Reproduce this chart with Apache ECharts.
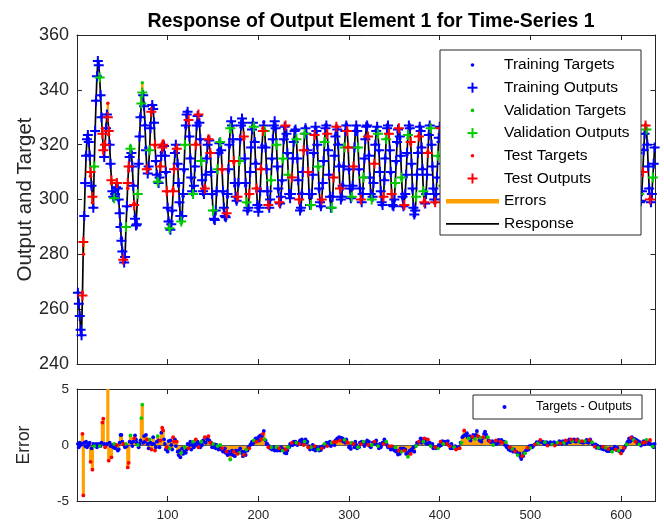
<!DOCTYPE html>
<html>
<head>
<meta charset="utf-8">
<script src="https://cdn.jsdelivr.net/npm/echarts@6/dist/echarts.min.js"></script>
<style>
  html, body { margin: 0; padding: 0; background: #fff; }
  #chart { width: 664px; height: 522px; }
</style>
</head>
<body>
<div id="chart"></div>
<script>
// Network response over time steps 1..N (one value per step, 12 per row)
const outputs = [
  266, 262, 257.5, 252.5, 250.5, 265, 284.5, 294, 306, 316, 322, 323.5,
  321, 316, 310, 305, 301, 297, 312, 325, 336, 345, 350.5, 349,
  344.5, 338, 330, 324, 318, 315.5, 320, 326, 331, 330, 325, 320,
  313, 307, 303, 301, 300.5, 302, 304.5, 306, 304, 300, 295, 290,
  285, 281, 278, 277, 279, 290, 297.5, 306, 312, 315.5, 318.5, 317,
  312, 305, 298, 293, 290.5, 291, 302, 313, 323, 330, 335, 339,
  338, 334, 327, 318, 311, 309.5, 312, 318, 326, 332, 334.5, 333,
  328, 320, 314, 309, 306.5, 306, 308, 312, 316, 319, 320, 319.5,
  316, 310, 303, 297, 292, 289.5, 289, 291, 296, 303, 311, 317,
  320, 318.5, 313, 306, 299, 294, 292, 294, 302, 311, 320, 327,
  331, 332, 329, 323, 315, 308, 303, 302, 305, 312, 320, 327,
  330.5, 331, 328, 322, 314, 307, 303, 302, 304, 309, 315, 320,
  322, 321.5, 317, 310, 302, 296, 293, 292.5, 296, 303, 311, 317,
  320.5, 321, 318, 311, 303, 297, 294, 293.5, 295, 302, 311, 320,
  326, 328.5, 327, 322, 314, 306, 301, 299.5, 301, 306, 314, 322,
  327, 329.5, 328, 323, 315, 306, 299, 296, 297, 302, 310, 319,
  325.5, 328, 326.5, 321, 313, 304, 298, 295.5, 297, 303, 311, 319,
  325, 327, 325, 319, 311, 303, 298, 297, 300, 307, 315, 322,
  327, 328.5, 326, 320, 312, 304, 299, 298.5, 301, 307, 315, 322,
  326.5, 327, 324, 317, 309, 302, 300.5, 302, 308, 315, 321, 325,
  325.5, 322, 315, 307, 300, 296, 297, 302, 310, 318, 324, 326,
  324, 318, 310, 302, 298, 298, 302, 309, 317, 323.5, 326.5, 325,
  320, 312, 304, 299, 297.5, 300, 306, 314, 321, 326, 327, 324,
  318, 309, 301, 297, 297, 301, 308, 316, 323, 326.5, 325.5, 320,
  312, 304, 300, 301, 305, 312, 319, 325, 327, 325, 319, 311,
  304, 300.5, 301, 305, 312, 319, 325, 327, 325, 319, 311, 304,
  300, 299, 302, 308, 315, 322, 326.5, 327, 323, 316, 308, 302,
  300, 301, 306, 313, 320, 325, 326.5, 324, 318, 310, 303, 299,
  298, 301, 307, 315, 322, 326, 327, 324, 318, 310, 302, 298,
  297.5, 300, 306, 314, 321, 325.5, 326, 323, 316, 308, 301, 297.5,
  298, 302, 309, 317, 323.5, 327, 326, 321, 313, 304, 297, 294.5,
  296, 301, 309, 317, 323, 326.5, 325, 319, 311, 303, 299, 298.5,
  302, 309, 317, 323.5, 327, 326, 320, 312, 304, 300, 299, 302,
  308, 316, 322.5, 326.5, 326, 321, 313, 305, 300, 298.5, 301, 307,
  315, 322, 326.5, 327, 323, 316, 308, 302, 299, 300, 305, 312,
  319, 325, 327, 325, 319, 311, 304, 300, 299.5, 303, 310, 318,
  324, 327, 326, 321, 313, 305, 300, 298.5, 301, 307, 315, 322,
  326.5, 327, 323, 316, 308, 302, 299, 300, 305, 312, 320, 325.5,
  327, 325, 319, 311, 304, 300, 299.5, 303, 310, 317, 323.5, 326.5,
  325.5, 321, 313, 305, 300, 298, 300, 306, 314, 321, 326, 327,
  324, 317, 309, 302, 298.5, 299, 303, 310, 318, 324, 327, 325.5,
  320, 312, 304, 299.5, 298.5, 302, 308, 316, 322.5, 326.5, 326, 321,
  313, 305, 300, 299, 301, 307, 315, 322, 326.5, 327, 323, 316,
  308, 302, 299, 300, 305, 312, 320, 325.5, 327, 325, 319, 311,
  304, 300, 299.5, 303, 310, 317, 323.5, 326.5, 325.5, 321, 313, 305,
  300, 298.5, 300, 306, 314, 321, 326, 327, 324, 317, 309, 302,
  299, 299.5, 303, 310, 318, 324, 327, 325.5, 320, 312, 304, 300,
  299, 302, 308, 316, 322.5, 326.5, 326, 321, 313, 305, 300, 299,
  301, 307, 315, 322, 326.5, 327, 323, 316, 308, 302, 299, 300,
  305, 312, 320, 325.5, 327, 325, 319, 311, 304, 300, 299.5, 303,
  310, 317, 323.5, 326.5, 325.5, 321, 313, 305, 300, 298.5, 300, 306,
  314, 321, 326, 327, 324, 317, 309, 302, 299, 299.5, 303, 310,
  318, 324, 327, 325.5, 320, 312, 304, 300, 299, 302, 308, 313, 319
];

// Targets minus outputs, same time steps
const errors = [
  0.1, -0.2, 0.2, 0.0, 0.1, 1.0, -4.5, 0.2, -0.1, 0.3, -0.2, 0.1,
  0.0, 0.2, -1.5, -0.3, -2.2, 0.1, -0.1, 0.0, 0.1, -0.2, 0.0, 0.1,
  -0.1, -0.1, 0.2, 2.0, 2.35, 0.1, -0.2, 0.0, 0.1, 5.1, -1.4, 0.2,
  -0.1, -1.1, 0.0, -0.2, 0.1, -0.3, -0.1, 0.0, -0.5, -0.4, 0.2, 0.9,
  0.9, 0.3, 0.1, 0.0, -0.2, 0.1, -0.1, -2.0, -1.6, 0.3, 0.85, 0.2,
  -0.1, 0.3, 0.6, 0.85, 0.5, 0.2, 0.0, -0.2, 0.1, 0.4, 2.4, 3.6,
  0.2, 0.8, 0.3, 0.9, 0.5, 0.1, -0.3, 0.5, 0.2, -0.4, 0.1, 0.7,
  0.1, -0.5, -0.2, 0.3, 0.8, 0.4, -0.2, 0.4, 1.1, 1.55, 1.3, 0.5,
  0.1, -0.4, -0.2, -0.6, 0.35, -0.3, 0.4, 0.0, -0.4, 0.7, 0.3, 0.5,
  -0.1, 0.3, -0.6, -0.9, -0.5, -1.1, -0.7, -0.3, -0.8, -0.6, -0.2, -0.7,
  -0.4, 0.1, -0.3, 0.0, 0.3, -0.4, 0.0, 0.3, -0.2, 0.1, 0.5, 0.0,
  0.3, -0.2, 0.1, -0.2, 0.3, 0.0, 0.4, 0.3, 0.7, 0.2, 0.6, 0.5,
  0.8, 0.4, 0.2, 0.2, -0.2, 0.1, -0.2, 0.05, -0.3, 0.0, -0.1, -0.4,
  -0.2, 0.0, -0.4, -0.3, -0.6, -0.5, -0.3, -0.7, -0.6, -0.9, -0.6, -0.8,
  -1.3, -0.8, -0.5, -0.9, -0.6, -1.0, -0.5, -0.6, -0.8, -0.5, -0.7, -0.3,
  -0.7, -0.6, -1.0, -0.9, -0.6, -0.9, -0.4, -0.5, -0.2, -0.3, 0.0, 0.1,
  0.3, 0.1, 0.4, 0.3, 0.6, 0.3, 0.4, 0.7, 0.4, 0.85, 0.5, 0.8,
  1.0, 1.25, 0.5, 0.4, 0.1, 0.1, -0.2, -0.1, -0.3, -0.2, -0.4, -0.3,
  -0.2, -0.5, -0.3, -0.2, -0.5, -0.4, -0.3, -0.5, -0.2, -0.3, -0.5, -0.4,
  -0.7, -0.4, -0.75, -0.5, -0.2, -0.2, 0.1, 0.0, 0.2, 0.0, 0.3, 0.1,
  0.3, 0.2, 0.0, 0.2, 0.1, 0.4, 0.1, 0.5, 0.2, 0.0, 0.3, 0.5,
  0.2, 0.3, -0.2, -0.1, -0.4, -0.2, -0.3, 0.0, -0.4, -0.1, -0.5, -0.2,
  -0.3, -0.4, -0.5, -0.2, -0.45, -0.3, -0.1, -0.2, 0.1, 0.0, 0.2, -0.1,
  0.2, 0.0, 0.3, -0.1, 0.2, 0.1, 0.25, 0.0, 0.4, 0.3, 0.6, 0.5,
  0.7, 0.4, 0.65, 0.4, 0.6, 0.3, 0.45, 0.2, 0.5, 0.25, 0.2, -0.2,
  -0.1, -0.35, 0.2, 0.1, 0.1, -0.2, 0.3, 0.0, -0.3, -0.2, -0.2, 0.2,
  0.1, 0.3, 0.2, 0.3, -0.1, 0.2, 0.1, 0.4, 0.0, 0.3, -0.1, -0.2,
  0.0, 0.2, 0.1, 0.3, 0.2, 0.4, 0.0, -0.1, -0.3, 0.1, -0.2, 0.0,
  0.2, 0.1, 0.5, 0.2, 0.3, 0.0, -0.2, -0.1, -0.2, -0.4, -0.1, -0.35,
  -0.2, -0.5, -0.2, -0.6, -0.5, -0.85, -0.5, -0.8, -0.3, -0.6, -0.5, -0.3,
  -0.5, -0.4, -0.8, -0.7, -1.05, -0.7, -0.5, -0.8, -0.4, -0.5, -0.2, -0.6,
  -0.1, -0.1, 0.2, 0.2, 0.3, 0.3, 0.6, 0.2, 0.5, 0.3, 0.6, 0.2,
  0.5, 0.1, 0.5, 0.2, 0.2, -0.1, 0.0, 0.1, -0.3, -0.2, -0.2, -0.3,
  -0.2, -0.3, 0.0, -0.1, 0.3, 0.0, 0.35, 0.1, 0.2, 0.3, 0.1, 0.1,
  0.35, 0.0, -0.1, -0.3, 0.1, -0.3, -0.2, -0.2, -0.1, -0.4, -0.3, -0.25,
  -0.2, -0.3, 0.2, 0.2, 0.7, 0.8, 1.3, 0.9, 0.9, 1.05, 0.7, 0.6,
  0.8, 0.4, 0.7, 0.75, 0.9, 0.7, 0.55, 0.9, 1.25, 0.8, 0.75, 0.4,
  0.65, 0.3, 0.6, 0.7, 1.0, 1.2, 0.95, 0.7, 0.7, 0.4, 0.35, 0.3,
  0.25, 0.35, 0.0, 0.1, 0.15, 0.4, 0.1, 0.35, 0.45, 0.2, 0.3, 0.45,
  0.2, 0.3, 0.3, 0.0, 0.25, -0.2, -0.1, -0.4, -0.2, -0.5, -0.3, -0.35,
  -0.6, -0.4, -0.55, -0.6, -0.65, -0.9, -0.8, -0.75, -1.05, -1.25, -1.0, -1.0,
  -0.7, -0.75, -0.5, -0.45, -0.25, -0.4, -0.1, -0.25, -0.05, -0.2, -0.1, 0.0,
  0.05, 0.1, 0.25, 0.15, 0.2, 0.3, 0.45, 0.3, 0.25, 0.3, 0.1, 0.25,
  0.05, 0.25, -0.05, 0.15, 0.1, 0.25, 0.05, 0.05, 0.15, 0.25, -0.05, 0.15,
  0.15, 0.2, 0.1, 0.35, 0.15, 0.2, 0.1, 0.35, 0.2, 0.25, 0.4, 0.15,
  0.35, 0.3, 0.5, 0.25, 0.5, 0.35, 0.35, 0.5, 0.45, 0.3, 0.45, 0.5,
  0.35, 0.35, 0.3, 0.25, 0.35, 0.2, 0.25, 0.35, 0.3, 0.45, 0.25, 0.2,
  0.45, 0.5, 0.25, 0.25, 0.05, 0.05, -0.15, 0.05, -0.25, -0.05, -0.25, -0.3,
  -0.15, -0.2, -0.35, -0.15, -0.4, -0.35, -0.25, -0.5, -0.55, -0.35, -0.55, -0.3,
  -0.5, -0.6, -0.35, -0.3, -0.15, -0.4, -0.45, -0.25, -0.5, -0.55, -0.6, -0.75,
  -0.55, -0.5, -0.25, -0.25, -0.05, 0.05, 0.25, 0.35, 0.6, 0.3, 0.65, 0.7,
  0.45, 0.45, 0.55, 0.3, 0.45, 0.15, 0.35, 0.05, 0.25, -0.05, 0.15, 0.2,
  0.35, 0.05, 0.25, 0.45, 0.25, 0.15, 0.15, 0.45, 0.05, 0.05, -0.15, -0.2, 0.1
];

// Data division per time step: t = training, v = validation, s = test
const divisionRows = [
  'tttttssttttt', 'ttststvttttt', 'vttsststtsst', 'tsttvttstttt',
  'ttsttvtsstvt', 'ttstttvtttvv', 'ttttsttvtstt', 'tsttvttstsst',
  'ttsttvtttsst', 'tsttttvtttvt', 'ttsttttvttst', 'tsttvtttsttt',
  'ststtvttttvt', 'tvtsttttsttt', 'vtttstttstvt', 'tttsttvttstt',
  'ttvttsttttst', 'stvtttsttvtt', 'tttvttstttvt', 'tsttvtttsttt',
  'tvttsttttsvt', 'ttsttvtttstt', 'tvtttsttvtts', 'ttttvtsttstt',
  'tsttttvttsst', 'ttvtsttttvtt', 'sttvttttsttt', 'vttstttvtttt',
  'tsttvttsttst', 'ttvtttsttvtt', 'stttvttstttt', 'tvttsttttvst',
  'ttsttvttttst', 'tvttsttvttts', 'ttsttttvtstt', 'tstvttsttttv',
  'tttsttvttstt', 'vttsttttvtst', 'ttvttsttttst', 'stttvtttsttv',
  'ttsttvttttst', 'tvttsttvtttt', 'sttvttsttttv', 'ttsttttvttst',
  'tvttstttvtst', 'ttttsvttttst', 'tvttsttvtttt', 'sttvttstttvt',
  'tttsttvttstt', 'tvtttsttvtts', 'ttsttvttttst', 'tvtstttvttts',
  'ttsvtttsttvtt'
];

const titleText = 'Response of Output Element 1 for Time-Series 1';
const xTickLabels = [100, 200, 300, 400, 500, 600];
const mainYTicks = [240, 260, 280, 300, 320, 340, 360];
const errYTicks = [-5, 0, 5];

const groupNames = {
  t: ['Training Targets', 'Training Outputs'],
  v: ['Validation Targets', 'Validation Outputs'],
  s: ['Test Targets', 'Test Outputs']
};

// ---- styling ----
const FONT = '"Liberation Sans", Arial, Helvetica, sans-serif';
const AXIS = '#262626';
const COL = { t: '#0000FF', v: '#00CC00', s: '#FF0000' };
const ORANGE = '#FFA000';
const PLUS = 'path://M4,0H6V4H10V6H6V10H4V6H0V4H4Z';
const X_MAX = 638;

// ---- build series data ----
const division = divisionRows.join('');
const groups = { t: { tgt: [], out: [], err: [] }, v: { tgt: [], out: [], err: [] }, s: { tgt: [], out: [], err: [] } };
const response = [], errSegments = [], errBars = [];
for (let i = 0; i < outputs.length; i++) {
  const x = i + 1;
  const o = outputs[i];
  const e = errors[i] !== undefined ? errors[i] : 0;
  const tg = o + e;
  const k = groups[division[i]] ? division[i] : 't';
  groups[k].tgt.push([x, tg]);
  groups[k].out.push([x, o]);
  groups[k].err.push([x, e]);
  response.push([x, o]);
  errSegments.push([x, tg, o]);
  errBars.push([x, e]);
}

function xAxisCfg(grid, position, labels) {
  return {
    type: 'value', gridIndex: grid, position: position,
    min: 0, max: X_MAX, interval: 100,
    axisLine: { show: true, onZero: false, lineStyle: { color: AXIS, width: 1 } },
    axisTick: { show: true, inside: true, length: 5, lineStyle: { color: AXIS, width: 1 } },
    axisLabel: {
      show: labels, color: AXIS, fontSize: 13, fontFamily: FONT, margin: 8,
      formatter: v => xTickLabels.indexOf(v) >= 0 ? String(v) : ''
    },
    splitLine: { show: false }
  };
}
function yAxisCfg(grid, position, min, max, step, ticks, labels, fs, name, nameSize, gap) {
  return {
    type: 'value', gridIndex: grid, position: position,
    min: min, max: max, interval: step,
    name: name || '', nameLocation: 'middle', nameGap: gap || 0, nameMoveOverlap: false,
    nameTextStyle: { color: AXIS, fontSize: nameSize || 12, fontFamily: FONT },
    axisLine: { show: true, onZero: false, lineStyle: { color: AXIS, width: 1 } },
    axisTick: { show: true, inside: true, length: 5, lineStyle: { color: AXIS, width: 1 } },
    axisLabel: {
      show: labels, color: AXIS, fontSize: fs, fontFamily: FONT, margin: 8,
      formatter: v => ticks.indexOf(v) >= 0 ? String(v) : ''
    },
    splitLine: { show: false }
  };
}

const series = [];
// orange error segments between target and output
series.push({
  type: 'custom', name: 'Errors', xAxisIndex: 0, yAxisIndex: 0, z: 1,
  data: errSegments,
  renderItem: (params, api) => {
    const a = api.coord([api.value(0), api.value(1)]);
    const b = api.coord([api.value(0), api.value(2)]);
    return { type: 'line', shape: { x1: a[0], y1: a[1], x2: b[0], y2: b[1] },
             style: { stroke: ORANGE, lineWidth: 2.5 } };
  }
});
series.push({
  type: 'line', name: 'Response', xAxisIndex: 0, yAxisIndex: 0, z: 2,
  data: response, showSymbol: false, symbol: 'none',
  lineStyle: { color: '#000', width: 1.7 }
});
['t', 'v', 's'].forEach((k, idx) => {
  series.push({
    type: 'scatter', name: groupNames[k][0], xAxisIndex: 0, yAxisIndex: 0, z: 3 + idx,
    data: groups[k].tgt, symbol: 'circle', symbolSize: 3.5,
    itemStyle: { color: COL[k], opacity: 1 }
  });
  series.push({
    type: 'scatter', name: groupNames[k][1], xAxisIndex: 0, yAxisIndex: 0, z: 3 + idx,
    data: groups[k].out, symbol: PLUS, symbolSize: 10, symbolKeepAspect: true,
    itemStyle: { color: COL[k], opacity: 1 }
  });
});
// error panel
series.push({
  type: 'bar', name: 'Error stems', xAxisIndex: 2, yAxisIndex: 2, z: 2,
  data: errBars, barWidth: 3.2, itemStyle: { color: ORANGE },
  markLine: {
    silent: true, symbol: 'none', label: { show: false }, z: 3,
    lineStyle: { color: '#5a5a5a', width: 1, type: 'solid' },
    data: [{ yAxis: 0 }]
  }
});
['t', 'v', 's'].forEach((k, idx) => {
  series.push({
    type: 'scatter', name: 'Targets - Outputs ' + k, xAxisIndex: 2, yAxisIndex: 2, z: 5 + idx,
    data: groups[k].err, symbol: 'circle', symbolSize: 3.8,
    itemStyle: { color: COL[k], opacity: 1 }
  });
});

// ---- legends drawn as graphics ----
const legendItems = [
  { text: 'Training Targets', kind: 'dot', color: COL.t },
  { text: 'Training Outputs', kind: 'plus', color: COL.t },
  { text: 'Validation Targets', kind: 'dot', color: COL.v },
  { text: 'Validation Outputs', kind: 'plus', color: COL.v },
  { text: 'Test Targets', kind: 'dot', color: COL.s },
  { text: 'Test Outputs', kind: 'plus', color: COL.s },
  { text: 'Errors', kind: 'thick', color: ORANGE },
  { text: 'Response', kind: 'line', color: '#000' }
];
const g = [];
const LX = 440, LY = 50, LW = 201, LH = 185, ROW0 = 65, ROWSTEP = 22.7, ICX = 472.5, TX = 504;
g.push({ type: 'rect', z: 100, shape: { x: LX, y: LY, width: LW, height: LH },
         style: { fill: '#fff', stroke: AXIS, lineWidth: 1 } });
legendItems.forEach((it, i) => {
  const y = ROW0 + i * ROWSTEP;
  if (it.kind === 'dot') {
    g.push({ type: 'circle', z: 101, shape: { cx: ICX, cy: y, r: 1.8 }, style: { fill: it.color } });
  } else if (it.kind === 'plus') {
    g.push({ type: 'line', z: 101, shape: { x1: ICX - 5, y1: y, x2: ICX + 5, y2: y }, style: { stroke: it.color, lineWidth: 2 } });
    g.push({ type: 'line', z: 101, shape: { x1: ICX, y1: y - 5, x2: ICX, y2: y + 5 }, style: { stroke: it.color, lineWidth: 2 } });
  } else {
    g.push({ type: 'line', z: 101, shape: { x1: 446, y1: y, x2: 499, y2: y },
             style: { stroke: it.color, lineWidth: it.kind === 'thick' ? 4.5 : 1.7 } });
  }
  g.push({ type: 'text', z: 101, x: TX, y: y,
           style: { text: it.text, fill: '#000', font: '15.5px ' + FONT, textVerticalAlign: 'middle', verticalAlign: 'middle' } });
});
// error panel legend
g.push({ type: 'rect', z: 100, shape: { x: 473, y: 395, width: 169, height: 24 },
         style: { fill: '#fff', stroke: AXIS, lineWidth: 1 } });
g.push({ type: 'circle', z: 101, shape: { cx: 504.5, cy: 407, r: 2 }, style: { fill: COL.t } });
g.push({ type: 'text', z: 101, x: 536, y: 407,
         style: { text: 'Targets - Outputs', fill: '#000', font: '12.5px ' + FONT, textVerticalAlign: 'middle', verticalAlign: 'middle' } });

const chart = echarts.init(document.getElementById('chart'), null, { renderer: 'canvas' });
chart.setOption({
  animation: false,
  backgroundColor: '#fff',
  title: {
    text: titleText, left: 366, top: 7, textAlign: 'center',
    textStyle: { fontSize: 19.5, fontWeight: 'bold', color: '#000', fontFamily: FONT }
  },
  grid: [
    { left: 77, top: 35, width: 578.5, height: 329 },
    { left: 77, top: 389, width: 578.5, height: 117 }
  ],
  xAxis: [
    xAxisCfg(0, 'bottom', false),
    xAxisCfg(0, 'top', false),
    xAxisCfg(1, 'bottom', true),
    xAxisCfg(1, 'top', false)
  ],
  yAxis: [
    yAxisCfg(0, 'left', 240, 360, 20, mainYTicks, true, 18, 'Output and Target', 20.5, 41),
    yAxisCfg(0, 'right', 240, 360, 20, mainYTicks, false, 18),
    yAxisCfg(1, 'left', -5, 5, 5, errYTicks, true, 13.5, 'Error', 17.5, 44),
    yAxisCfg(1, 'right', -5, 5, 5, errYTicks, false, 13.5)
  ],
  series: series,
  graphic: { elements: g }
});
</script>
</body>
</html>
